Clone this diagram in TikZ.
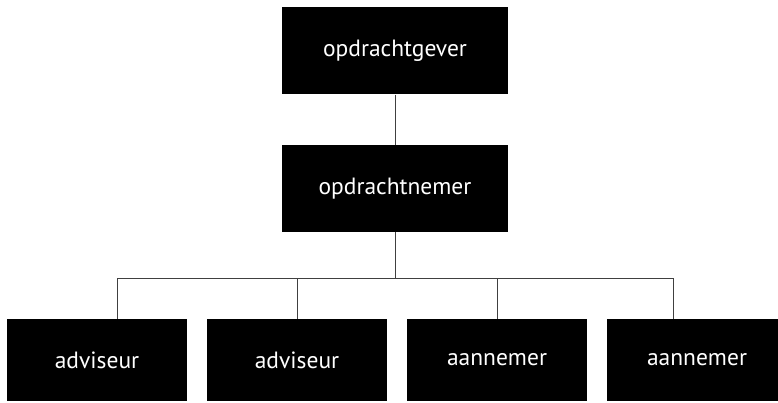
\documentclass[tikz,border=0pt]{standalone}
\usepackage{fontspec}
\setmainfont{PT Sans}
\begin{document}
\begin{tikzpicture}[x=1pt,y=-1pt,
  orgbox/.style={fill=black,text=white,inner sep=0pt,font=\fontsize{23.5}{26}\selectfont},
  wide/.style={orgbox,minimum width=226pt,minimum height=87pt},
  leaf/.style={orgbox,minimum width=180pt,minimum height=82pt},
  link/.style={draw=black!75,line width=1pt}]
  \useasboundingbox (0,0) rectangle (778,403);
  \begin{scope}
  \clip (0,0) rectangle (778,403);
  \node[wide] (gever) at (395,51) {opdrachtgever};
  \node[wide] (nemer) at (395,188.5) {opdrachtnemer};
  \node[leaf] (adv1) at (97,360) {adviseur};
  \node[leaf] (adv2) at (297,360) {adviseur};
  \node[leaf] (aan1) at (497,360) {aannemer};
  \node[leaf] (aan2) at (697,360) {aannemer};
  \end{scope}
  % bus line feeding the four subordinate boxes
  \coordinate (busmid) at (395,278);
  \coordinate (busL) at (117,278);
  \coordinate (busB) at (297,278);
  \coordinate (busC) at (497,278);
  \coordinate (busR) at (673,278);
  \draw[link] (gever.south) -- (nemer.north);
  \draw[link] (nemer.south) -- (busmid);
  \draw[link] (busL) -- (busR);
  \draw[link] (busL) -- (busL |- adv1.north);
  \draw[link] (busB) -- (adv2.north);
  \draw[link] (busC) -- (aan1.north);
  \draw[link] (busR) -- (busR |- aan2.north);
\end{tikzpicture}
\end{document}
